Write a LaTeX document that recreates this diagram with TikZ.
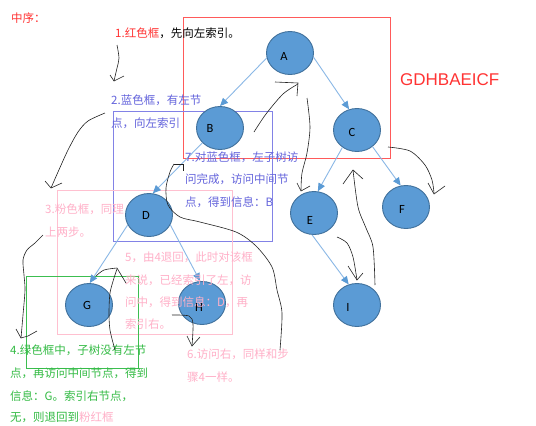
\documentclass[tikz,border=0pt]{standalone}
\usepackage{fontspec}
\setmainfont{Noto Sans CJK SC}
\newfontfamily\nodefont{Carlito}
\newfontfamily\seqfont{Liberation Sans}
\usetikzlibrary{shapes.geometric,arrows.meta}
\definecolor{nodefill}{HTML}{5B9BD5}
\definecolor{nodedraw}{HTML}{41719C}
\definecolor{edgec}{HTML}{8AB8E6}
\definecolor{tipc}{HTML}{5B9BD5}
\definecolor{redt}{HTML}{FF3333}
\definecolor{redbox}{HTML}{FF5A5A}
\definecolor{bluet}{HTML}{6464DC}
\definecolor{bluebox}{HTML}{8282E6}
\definecolor{pinkt}{HTML}{FFB0C8}
\definecolor{pinkbox}{HTML}{FFC0D0}
\definecolor{greent}{HTML}{33BB44}
\definecolor{greenbox}{HTML}{3CBE50}
\definecolor{handc}{HTML}{222222}
\tikzset{
  tnode/.style={ellipse,draw=nodedraw,line width=0.9pt,fill=nodefill,minimum width=47pt,minimum height=43pt,inner sep=0pt},
  lab/.style={font=\nodefont\fontsize{12.5}{14}\selectfont,text=black},
  tedge/.style={draw=edgec,line width=0.9pt,-{Triangle[length=8pt,width=7pt,fill=tipc,color=tipc]}},
  frame/.style={line width=1pt},
  txt/.style={anchor=west,inner sep=0pt,font=\fontsize{11.5}{13}\selectfont},
  hand/.style={draw=handc,line width=0.6pt},
}
\begin{document}
\begin{tikzpicture}[x=1pt,y=-1pt]
\useasboundingbox (0,0) rectangle (536,426);
\fill[white] (0,0) rectangle (536,426);
% frames
\draw[frame,draw=redbox] (183,17) rectangle (390,158);
\draw[frame,draw=bluebox] (113,111) rectangle (272,241);
\draw[frame,draw=pinkbox] (57,190) rectangle (232,334);
\draw[frame,draw=greenbox] (26,276) rectangle (138,368);
% nodes
\node[tnode,label={[lab,xshift=-6pt,yshift=-3pt]center:A}] (A) at (290,53) {};
\node[tnode,label={[lab,xshift=-10pt]center:B}] (B) at (220,128) {};
\node[tnode,label={[lab,xshift=-5pt,yshift=-2pt]center:C}] (C) at (357,130) {};
\node[tnode,label={[lab,xshift=-3pt]center:D}] (D) at (149,215) {};
\node[tnode,label={[lab,xshift=-4pt,yshift=-7pt]center:E}] (E) at (314,213) {};
\node[tnode,label={[lab,xshift=-4pt,yshift=-2pt]center:F}] (F) at (406,207) {};
\node[tnode,label={[lab,xshift=-2pt]center:G}] (G) at (89,305) {};
\node[tnode,label={[lab,xshift=-3pt,yshift=-4pt]center:H}] (H) at (202,303) {};
\node[tnode,label={[lab,xshift=-9pt,yshift=-2pt]center:I}] (I) at (357,305) {};
% tree edges
\draw[tedge] (A.192) -- (B.north);
\draw[tedge] (A.350) -- (C.111);
\draw[tedge] (B.220) -- (D.80);
\draw[tedge] (D.205) -- (G.88);
\draw[tedge] (D.335) -- (H.95);
\draw[tedge] (C.230) -- (E.80);
\draw[tedge] (C.313) -- (F.104);
\draw[tedge] (E.265) -- (I.112);
% texts
\node[txt,text=redt] (t0) at (11,18) {中序：};
\node[txt] (t1) at (115,33) {\textcolor{redt}{1.红色框}，先向左索引。};
\node[anchor=west,inner sep=0pt,font=\seqfont\fontsize{17}{19}\selectfont,text=redt] (seq) at (400,80) {GDHBAEICF};
\node[txt,text=bluet] (t2a) at (111,100) {2.蓝色框，有左节};
\node[txt,text=bluet] (t2b) at (111,123) {点，向左索引};
\node[txt,text=pinkt] (t3a) at (45,209) {3.粉色框，同理};
\node[txt,text=pinkt] (t3b) at (45,232) {上两步。};
\node[txt,text=bluet] (t7a) at (185,157) {7.对蓝色框，左子树访};
\node[txt,text=bluet] (t7b) at (185,179) {问完成，访问中间节};
\node[txt,text=bluet] (t7c) at (185,202) {点，得到信息：B};
\node[txt,text=pinkt] (t5a) at (125,257) {5，由4退回，此时对该框};
\node[txt,text=pinkt] (t5b) at (125,280) {来说，已经索引了左，访};
\node[txt,text=pinkt] (t5c) at (125,302) {问中，得到信息：D，再};
\node[txt,text=pinkt] (t5d) at (125,324) {索引右。};
\node[txt,text=greent] (t4a) at (10,350) {4.绿色框中，子树没有左节};
\node[txt,text=greent] (t4b) at (10,373) {点，再访问中间节点，得到};
\node[txt,text=greent] (t4c) at (10,396) {信息：G。索引右节点，};
\node[txt,text=greent] (t4d) at (10,417) {无，则退回到\textcolor{pinkt}{粉红框}};
\node[txt,text=pinkt] (t6a) at (187,354) {6.访问右，同样和步};
\node[txt,text=pinkt] (t6b) at (187,377) {骤4一样。};
% hand-drawn arrows
\draw[hand] plot[smooth] coordinates {(117,45) (119,58) (117,68) (114,81)};
\draw[hand] (110,75) -- (114,81) -- (124,76);
\draw[hand] plot[smooth] coordinates {(105,113) (88,121) (78,132) (68,150) (58,172) (51,188)};
\draw[hand] (45,181) -- (51,188) -- (62,183);
\draw[hand] plot[smooth] coordinates {(43,235) (35,243) (27,250) (23,260) (24,275) (25,290) (23,315) (21,338)};
\draw[hand] (16,329) -- (21,338) -- (28,336) -- (37,331);
\draw[hand] plot[smooth] coordinates {(115,350) (110,330) (109,312) (110,293) (114,278) (117,269)};
\draw[hand] plot[smooth] coordinates {(96,276) (104,270) (117,268)};
\draw[hand] (117,268) -- (126,283);
\draw[hand] plot[smooth] coordinates {(172,315) (189,316) (193,324) (192,346)};
\draw[hand] (187,336) -- (192,346) -- (200,337);
\draw[hand] plot[smooth] coordinates {(280,350) (282,313) (277,290) (272,267) (256,246) (236,232) (200,222) (180,217) (168,205) (166,188) (170,172) (174,164)};
\draw[hand] (174,164) -- (183,164) -- (183,171);
\draw[hand] plot[smooth] coordinates {(254,132) (266,114) (283,94) (298,84)};
\draw[hand] (275,82) -- (298,83) -- (297,96);
\draw[hand] plot[smooth] coordinates {(307,98) (310,127) (307,153) (302,173) (301,190)};
\draw[hand] (297,183) -- (301,191) -- (310,186);
\draw[hand] plot[smooth] coordinates {(388,147) (410,151) (425,165) (432,180) (434,193)};
\draw[hand] (428,183) -- (434,194) -- (445,186);
\draw[hand] plot[smooth] coordinates {(337,237) (347,243) (353,257) (357,280)};
\draw[hand] (348,266) -- (357,280) -- (363,273);
\draw[hand] plot[smooth] coordinates {(375,285) (373,247) (366,228) (358,207) (353,170)};
\draw[hand] (343,184) -- (353,170) -- (363,179);
\end{tikzpicture}
\end{document}
